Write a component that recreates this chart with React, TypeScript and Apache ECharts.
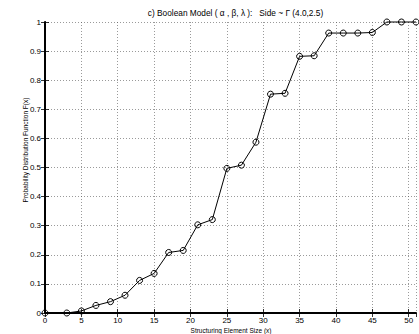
import React, { useEffect, useRef } from "react";
import * as echarts from "echarts";

const xValues = [0, 3, 5, 7, 9, 11, 13, 15, 17, 19, 21, 23, 25, 27, 29, 31, 33, 35, 37, 39, 41, 43, 45, 47, 49, 51];
const yValues = [0, 0, 0.007, 0.026, 0.039, 0.061, 0.112, 0.136, 0.208, 0.215, 0.303, 0.321, 0.497, 0.508, 0.587, 0.752, 0.755, 0.882, 0.884, 0.962, 0.962, 0.962, 0.964, 1.0, 1.0, 1.0];
const titleText = "c) Boolean Model ( \u03b1 , \u03b2, \u03bb ):   Side ~ \u0393 (4.0,2.5)";
const xName = "Structuring Element Size (x)";
const yName = "Probability Distribution Function F(x)";

const FONT = "Liberation Sans";

export default function App() {
  const ref = useRef<HTMLDivElement>(null);
  useEffect(() => {
    const chart = echarts.init(ref.current!, null, { renderer: "svg" });
    const gridLeft = 45, gridRight = 3, gridTop = 22, gridBottom = 21;
    const data = xValues.map((x, i) => [x, yValues[i]]);
    const splitLine = { show: true, lineStyle: { color: "#555", type: [1, 2] as any, width: 0.6 } };
    chart.setOption({
      animation: false,
      backgroundColor: "#fff",
      title: {
        text: titleText,
        left: gridLeft + (419 - gridLeft - gridRight) / 2,
        textAlign: "center",
        top: 4,
        textStyle: { fontFamily: FONT, fontSize: 8.3, fontWeight: "normal", color: "#000" },
      },
      grid: { left: gridLeft, right: gridRight, top: gridTop, bottom: gridBottom },
      graphic: [
        {
          type: "text",
          x: 231,
          y: 330,
          style: { text: xName, fontFamily: FONT, fontSize: 6.5, fill: "#000", textAlign: "center", textVerticalAlign: "middle" },
        },
        {
          type: "text",
          x: 25,
          y: 150,
          rotation: Math.PI / 2,
          style: { text: yName, fontFamily: FONT, fontSize: 6.5, fill: "#000", textAlign: "center", textVerticalAlign: "middle" },
        },
      ],
      xAxis: [
        {
          type: "value",
          min: 0,
          max: 51,
          interval: 5,
          position: "bottom",
          axisLine: { show: true, lineStyle: { color: "#000", width: 2 } },
          axisTick: { show: true, inside: true, length: 4, lineStyle: { color: "#000", width: 0.8 } },
          axisLabel: { fontFamily: FONT, fontSize: 8, lineHeight: 8, color: "#000", margin: 3, showMaxLabel: false },
          splitLine,
        },
        {
          type: "value",
          min: 0,
          max: 51,
          interval: 5,
          position: "top",
          axisLine: { show: true, lineStyle: { color: "#000", width: 1 } },
          axisTick: { show: true, inside: true, length: 4, lineStyle: { color: "#000", width: 0.8 } },
          axisLabel: { show: false },
          splitLine: { show: false },
        },
      ],
      yAxis: [
        {
          type: "value",
          min: 0,
          max: 1,
          interval: 0.1,
          position: "left",
          axisLine: { show: true, lineStyle: { color: "#000", width: 2 } },
          axisTick: { show: true, inside: true, length: 4, lineStyle: { color: "#000", width: 0.8 } },
          axisLabel: { fontFamily: FONT, fontSize: 8, color: "#000", margin: 4, formatter: (v: number) => String(Math.round(v * 10) / 10) },
          splitLine,
        },
        {
          type: "value",
          min: 0,
          max: 1,
          interval: 0.1,
          position: "right",
          axisLine: { show: true, lineStyle: { color: "#000", width: 1 } },
          axisTick: { show: true, inside: true, length: 4, lineStyle: { color: "#000", width: 0.8 } },
          axisLabel: { show: false },
          splitLine: { show: false },
        },
      ],
      series: [
        {
          type: "line",
          data,
          xAxisIndex: 0,
          yAxisIndex: 0,
          symbol: "circle",
          symbolSize: 6,
          showAllSymbol: true,
          clip: false,
          lineStyle: { color: "#000", width: 1 },
          itemStyle: { color: "rgba(0,0,0,0)", borderColor: "#000", borderWidth: 1 },
        },
      ],
    });
    return () => chart.dispose();
  }, []);
  return <div ref={ref} style={{ width: 419, height: 334, position: "absolute", left: 0, top: 0 }} />;
}
